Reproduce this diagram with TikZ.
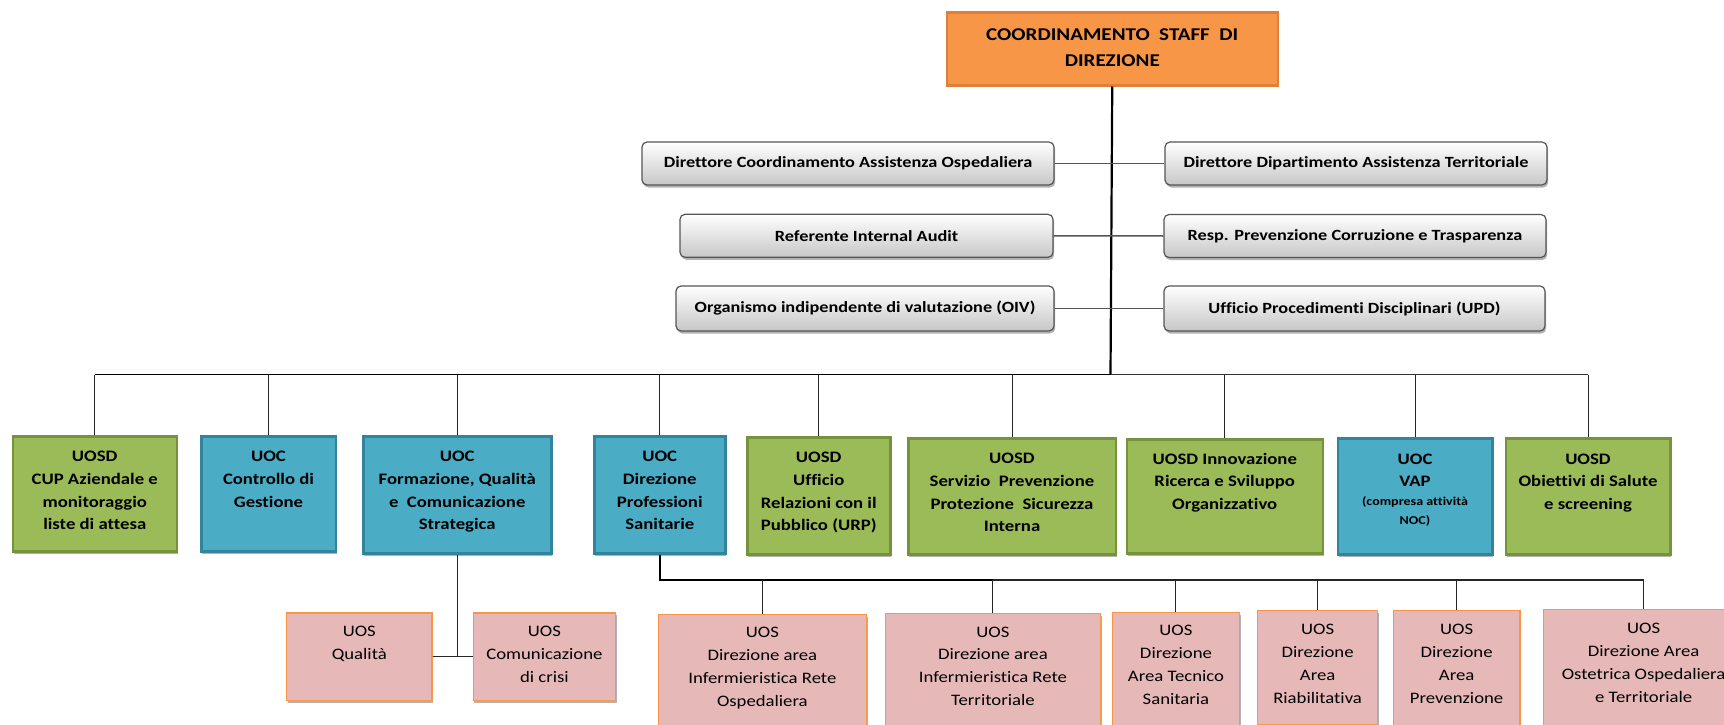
\documentclass[tikz,border=0pt]{standalone}
\usepackage{fontspec}
\setmainfont[FakeStretch=1.17,Ligatures=NoCommon]{Carlito}
\usetikzlibrary{shadows}
\definecolor{orgor}{HTML}{F79646}
\definecolor{orgorb}{HTML}{DF7F3C}
\definecolor{orggr}{HTML}{9BBB59}
\definecolor{orggrb}{HTML}{76923C}
\definecolor{orgbl}{HTML}{4BACC6}
\definecolor{orgblb}{HTML}{31849B}
\definecolor{orgpk}{HTML}{E6B9B8}
\definecolor{orggyb}{HTML}{555555}
\newcommand{\orgtxt}[4]{\parbox[c][#2][t]{#1}{\centering\rule{0pt}{#3}#4\par}}
\tikzset{
  myshadow/.style={drop shadow={shadow xshift=1.2pt, shadow yshift=-2.5pt, opacity=0.3, fill=black}},
  boxbase/.style={inner sep=0pt, anchor=north west},
  topbox/.style={boxbase, fill=orgor, draw=orgorb, line width=2.5pt,
    font=\fontsize{18}{26.7}\selectfont\bfseries},
  greenbox/.style={boxbase, fill=orggr, draw=orggrb, line width=2.5pt, myshadow,
    font=\fontsize{16}{22.7}\selectfont\bfseries},
  bluebox/.style={boxbase, fill=orgbl, draw=orgblb, line width=2.5pt, myshadow,
    font=\fontsize{16}{22.7}\selectfont\bfseries},
  pinkbox/.style={boxbase, fill=orgpk, draw=orgor, line width=1.2pt, myshadow,
    font=\fontsize{16}{22.8}\selectfont},
  graybox/.style={rounded corners=5pt, draw=orggyb, line width=1.2pt, top color=white,
    bottom color=black!22, minimum height=43pt, inner sep=0pt, myshadow,
    font=\fontsize{15.6}{18}\selectfont\bfseries},
  gyline/.style={draw=orggyb, line width=1.5pt},
  trunk/.style={draw=black, line width=2.2pt},
  busline/.style={draw=black, line width=1.8pt},
  conn/.style={draw=black!85, line width=1pt},
}
\begin{document}
\begin{tikzpicture}[x=1pt,y=-1pt]
\fill[white] (0,0) rectangle (1724,725);
\useasboundingbox (0,0) rectangle (1724,725);

% top
\node[topbox] (top) at (945.5,11.5) {\orgtxt{331pt}{72.5pt}{27.3pt}{COORDINAMENTO\ \ STAFF\ \ DI\\DIREZIONE}};

% gray boxes
\node[graybox, minimum width=412pt] (g1l) at (848,163.5) {Direttore Coordinamento Assistenza Ospedaliera};
\node[graybox, minimum width=382pt] (g1r) at (1356,163.5) {Direttore Dipartimento Assistenza Territoriale};
\node[graybox, minimum width=373pt] (g2l) at (866.5,235.8) {Referente Internal Audit};
\node[graybox, minimum width=382pt] (g2r) at (1355,236) {Resp. Prevenzione Corruzione e Trasparenza};
\node[graybox, minimum width=378pt, minimum height=45pt] (g3l) at (865,308.5) {Organismo indipendente di valutazione (OIV)};
\node[graybox, minimum width=381pt, minimum height=45pt] (g3r) at (1354.5,308.5) {Ufficio Procedimenti Disciplinari (UPD)};

% middle row
\node[greenbox] (b1) at (11.5,435) {\orgtxt{164pt}{115pt}{25.5pt}{UOSD\\CUP Aziendale e\\monitoraggio\\liste di attesa}};
\node[bluebox] (b2) at (200,435) {\orgtxt{134.5pt}{115pt}{25.5pt}{UOC\\Controllo di\\Gestione}};
\node[bluebox] (b3) at (362,435) {\orgtxt{188pt}{117pt}{25.5pt}{UOC\\Formazione, Qualità\\e\ \ Comunicazione\\Strategica}};
\node[bluebox] (b4) at (593,435) {\orgtxt{131pt}{117pt}{25.5pt}{UOC\\Direzione\\Professioni\\Sanitarie}};
\node[greenbox] (b5) at (746,436) {\orgtxt{143pt}{117pt}{25.5pt}{UOSD\\Ufficio\\Relazioni con il\\Pubblico (URP)}};
\node[greenbox] (b6) at (907,437) {\orgtxt{207.5pt}{116pt}{25.5pt}{UOSD\\Servizio\ \ Prevenzione\\Protezione\ \ Sicurezza\\Interna}};
\node[greenbox] (b7) at (1125.5,438) {\orgtxt{196pt}{114pt}{25pt}{UOSD Innovazione\\Ricerca e Sviluppo\\Organizzativo}};
\node[bluebox] (b8) at (1336.5,437) {\orgtxt{154.5pt}{116pt}{26pt}{UOC\\VAP\\{\fontsize{12}{19}\selectfont (compresa attività\\NOC)\par}}};
\node[greenbox] (b9) at (1504.5,437) {\orgtxt{164.5pt}{116pt}{26pt}{UOSD\\Obiettivi di Salute\\e screening}};

% bottom row
\node[pinkbox] (q) at (286,612.3) {\orgtxt{145.4pt}{87.7pt}{23.5pt}{UOS\\Qualità}};
\node[pinkbox] (c) at (472.6,612.3) {\orgtxt{142.4pt}{87.7pt}{23.5pt}{UOS\\Comunicazione\\di crisi}};
\node[pinkbox] (p1) at (657.5,614) {\orgtxt{208.5pt}{125pt}{23pt}{UOS\\Direzione area\\Infermieristica Rete\\Ospedaliera}};
\node[pinkbox] (p2) at (884.6,612.5) {\orgtxt{215.4pt}{125pt}{24pt}{UOS\\Direzione area\\Infermieristica Rete\\Territoriale}};
\node[pinkbox] (p3) at (1112,611.7) {\orgtxt{126.7pt}{125pt}{23.5pt}{UOS\\Direzione\\Area Tecnico\\Sanitaria}};
\node[pinkbox] (p4) at (1257,610) {\orgtxt{120pt}{114pt}{24pt}{UOS\\Direzione\\Area\\Riabilitativa}};
\node[pinkbox] (p5) at (1392.7,610) {\orgtxt{126.6pt}{125pt}{24pt}{UOS\\Direzione\\Area\\Prevenzione}};
\node[pinkbox] (p6) at (1543,609) {\orgtxt{200pt}{125pt}{24pt}{UOS\\Direzione Area\\Ostetrica Ospedaliera\\e Territoriale}};

% connectors
\coordinate (bus) at (1110.5,374.5);
\coordinate (bus2) at (658,580);
\draw[trunk] (top.south) -- (bus);
\draw[gyline] (g1l.east) -- (g1r.west);
\draw[gyline] (g2l.east) -- (g2r.west);
\draw[gyline] (g3l.east) -- (g3r.west);
\draw[busline] (b1.north |- bus) -- (bus);
\draw[busline, line width=1.4pt, draw=black!80] (bus) -- (b9.north |- bus);
\foreach \b in {b1,b2,b3,b4,b5,b6,b7,b8,b9}
  \draw[conn] (\b.north) -- (\b.north |- bus);
\draw[conn, line width=1.3pt] (b3.south) -- (b3.south |- q.east);
\draw[conn, line width=1.3pt] (q.east) -- (c.west);
\draw[busline, line width=2.2pt] (b4.south) -- (b4.south |- bus2) -- (p2.north |- bus2);
\draw[busline, line width=1.5pt, draw=black!85] (p2.north |- bus2) -- (p6.north |- bus2);
\foreach \p in {p1,p2,p3,p4,p5,p6}
  \draw[conn] (\p.north) -- (\p.north |- bus2);
\end{tikzpicture}
\end{document}
